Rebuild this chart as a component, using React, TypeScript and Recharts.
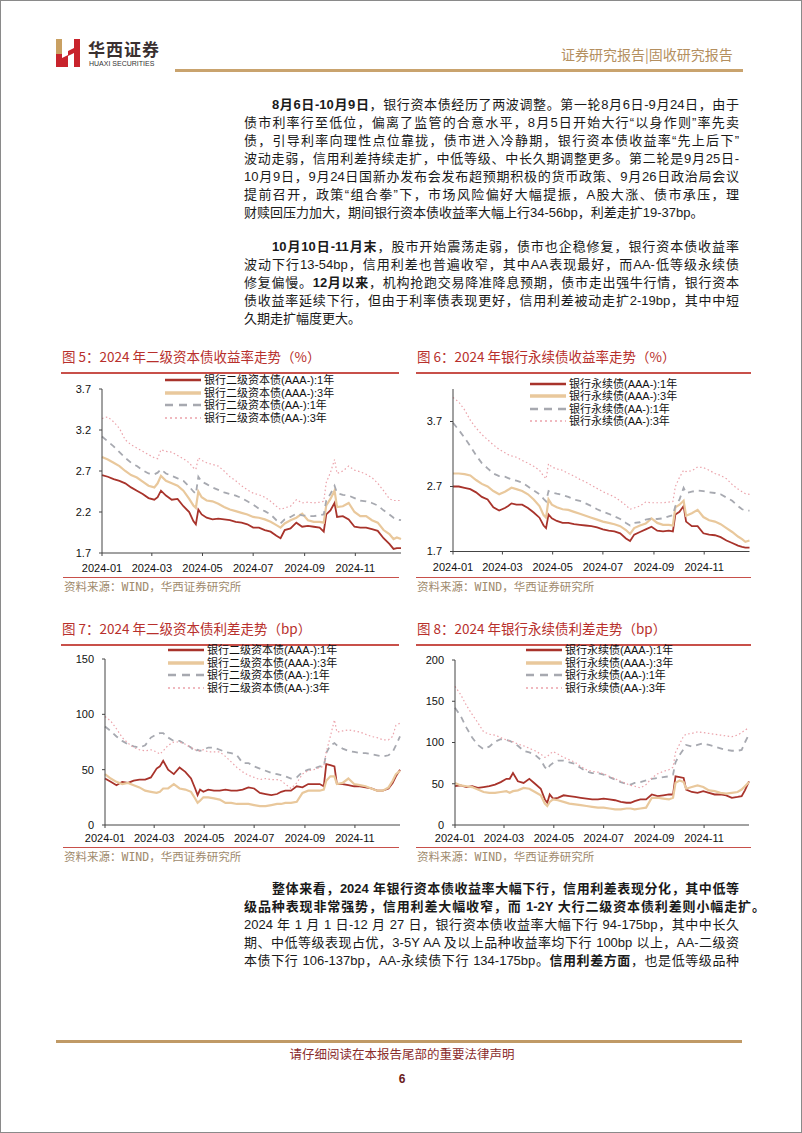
import React from "react";
import { LineChart, Line, XAxis, YAxis, Legend } from "recharts";

// 观测日期（2024 年）
const dates = [
  "2024-01-01", "2024-01-08", "2024-01-15", "2024-01-22", "2024-01-29", "2024-02-05", "2024-02-12", "2024-02-19", "2024-02-26", "2024-03-04",
  "2024-03-08", "2024-03-12", "2024-03-18", "2024-03-25", "2024-04-01", "2024-04-08", "2024-04-15", "2024-04-20", "2024-04-23", "2024-04-26",
  "2024-04-30", "2024-05-06", "2024-05-13", "2024-05-20", "2024-05-27", "2024-06-03", "2024-06-10", "2024-06-17", "2024-06-24", "2024-07-01",
  "2024-07-08", "2024-07-15", "2024-07-22", "2024-07-29", "2024-08-03", "2024-08-08", "2024-08-15", "2024-08-22", "2024-08-29", "2024-09-05",
  "2024-09-12", "2024-09-19", "2024-09-24", "2024-09-27", "2024-10-02", "2024-10-07", "2024-10-10", "2024-10-17", "2024-10-24", "2024-10-31",
  "2024-11-07", "2024-11-14", "2024-11-21", "2024-11-28", "2024-12-05", "2024-12-12", "2024-12-17", "2024-12-21", "2024-12-26",
];

const xTickDates = ["2024-01-01", "2024-03-01", "2024-05-01", "2024-07-01", "2024-09-01", "2024-11-01"];
const xTickLabels = ["2024-01", "2024-03", "2024-05", "2024-07", "2024-09", "2024-11"];

const tier2Names = ["银行二级资本债(AAA-):1年", "银行二级资本债(AAA-):3年", "银行二级资本债(AA-):1年", "银行二级资本债(AA-):3年"];
const perpNames = ["银行永续债(AAA-):1年", "银行永续债(AAA-):3年", "银行永续债(AA-):1年", "银行永续债(AA-):3年"];

// 图5 二级资本债收益率 (%)
const t2YieldAAA1 = [
  2.65, 2.63, 2.6, 2.58, 2.55, 2.5, 2.46, 2.42, 2.37, 2.35, 2.38, 2.46, 2.4, 2.35, 2.36, 2.27, 2.2, 2.09, 2.05, 2.23,
  2.17, 2.13, 2.11, 2.12, 2.11, 2.1, 2.08, 2.07, 2.05, 2.01, 2.01, 1.98, 1.96, 1.91, 1.88, 1.98, 2.0, 2.07, 2.02, 2.03,
  2.02, 2.01, 1.96, 2.17, 2.22, 2.31, 2.14, 2.15, 2.11, 2.02, 2.01, 2.01, 1.99, 1.97, 1.88, 1.81, 1.75, 1.76, 1.76,
];
const t2YieldAAA3 = [
  2.87, 2.84, 2.8, 2.76, 2.7, 2.65, 2.62, 2.57, 2.52, 2.5, 2.55, 2.64, 2.58, 2.55, 2.52, 2.46, 2.36, 2.28, 2.25, 2.45,
  2.38, 2.34, 2.33, 2.3, 2.26, 2.23, 2.21, 2.19, 2.17, 2.14, 2.13, 2.11, 2.08, 2.04, 2.01, 2.06, 2.1, 2.13, 2.18, 2.1,
  2.08, 2.08, 2.07, 2.28, 2.36, 2.46, 2.26, 2.27, 2.31, 2.2, 2.15, 2.15, 2.1, 2.07, 1.98, 1.93, 1.87, 1.89, 1.87,
];
const t2YieldAA1 = [
  3.12, 3.06, 3.0, 2.93, 2.86, 2.8, 2.76, 2.71, 2.67, 2.66, 2.68, 2.72, 2.67, 2.64, 2.61, 2.58, 2.51, 2.45, 2.42, 2.63,
  2.57, 2.54, 2.5, 2.47, 2.44, 2.42, 2.4, 2.37, 2.33, 2.29, 2.24, 2.21, 2.17, 2.1, 2.06, 2.11, 2.14, 2.18, 2.16, 2.15,
  2.15, 2.16, 2.17, 2.34, 2.42, 2.52, 2.43, 2.41, 2.4, 2.37, 2.34, 2.33, 2.31, 2.28, 2.22, 2.17, 2.13, 2.11, 2.1,
];
const t2YieldAA3 = [
  3.34, 3.36, 3.3, 3.22, 3.08, 3.02, 2.98, 2.94, 2.9, 2.86, 2.85, 2.96, 2.94, 2.93, 2.89, 2.85, 2.8, 2.74, 2.72, 2.86,
  2.83, 2.8, 2.78, 2.76, 2.7, 2.63, 2.58, 2.52, 2.47, 2.43, 2.41, 2.38, 2.33, 2.27, 2.23, 2.25, 2.27, 2.35, 2.31, 2.32,
  2.31, 2.32, 2.33, 2.56, 2.68, 2.84, 2.67, 2.7, 2.76, 2.71, 2.69, 2.66, 2.62, 2.55, 2.46, 2.36, 2.34, 2.34, 2.34,
];

// 图6 永续债收益率 (%)
const pYieldAAA1 = [
  2.7, 2.7, 2.68, 2.66, 2.61, 2.54, 2.5, 2.38, 2.33, 2.37, 2.4, 2.44, 2.42, 2.42, 2.37, 2.3, 2.22, 2.1, 2.06, 2.27,
  2.21, 2.17, 2.14, 2.14, 2.12, 2.11, 2.1, 2.09, 2.07, 2.04, 2.02, 2.01, 1.98, 1.9, 1.86, 1.96, 2.0, 2.04, 2.08, 2.02,
  2.01, 2.02, 2.01, 2.27, 2.31, 2.4, 2.16, 2.09, 2.09, 1.98, 1.96, 1.95, 1.92, 1.87, 1.83, 1.79, 1.77, 1.76, 1.76,
];
const pYieldAAA3 = [
  2.9, 2.9, 2.89, 2.87, 2.8, 2.74, 2.7, 2.63, 2.58, 2.62, 2.65, 2.68, 2.66, 2.63, 2.58, 2.5, 2.4, 2.26, 2.22, 2.5,
  2.42, 2.38, 2.35, 2.34, 2.31, 2.28, 2.25, 2.22, 2.19, 2.16, 2.14, 2.12, 2.09, 2.03, 1.97, 2.06, 2.1, 2.13, 2.21, 2.14,
  2.11, 2.11, 2.1, 2.38, 2.42, 2.48, 2.25, 2.29, 2.34, 2.23, 2.18, 2.16, 2.12, 2.06, 2.0, 1.93, 1.89, 1.85, 1.87,
];
const pYieldAA1 = [
  3.68, 3.57, 3.45, 3.32, 3.18, 3.06, 2.98, 2.9, 2.86, 2.85, 2.83, 2.81, 2.79, 2.76, 2.7, 2.64, 2.58, 2.51, 2.47, 2.63,
  2.61, 2.59, 2.57, 2.54, 2.5, 2.48, 2.44, 2.4, 2.35, 2.31, 2.28, 2.24, 2.2, 2.14, 2.1, 2.14, 2.15, 2.19, 2.21, 2.2,
  2.21, 2.24, 2.26, 2.4, 2.5, 2.68, 2.6, 2.62, 2.64, 2.63, 2.61, 2.6, 2.58, 2.53, 2.48, 2.4, 2.35, 2.33, 2.33,
];
const pYieldAA3 = [
  4.07, 4.0, 3.88, 3.72, 3.6, 3.5, 3.42, 3.34, 3.27, 3.22, 3.19, 3.17, 3.15, 3.1, 3.06, 3.01, 2.95, 2.86, 2.82, 3.05,
  3.0, 2.97, 2.95, 2.9, 2.86, 2.81, 2.77, 2.72, 2.67, 2.62, 2.58, 2.54, 2.48, 2.41, 2.35, 2.37, 2.4, 2.46, 2.45, 2.45,
  2.45, 2.46, 2.47, 2.7, 2.84, 2.95, 2.93, 2.94, 3.0, 2.99, 2.95, 2.9, 2.87, 2.82, 2.73, 2.66, 2.62, 2.59, 2.58,
];

// 图7 二级资本债利差 (bp)
const t2SpreadAAA1 = [
  42, 39, 36, 39, 38, 40, 41, 41, 43, 51, 53, 58, 50, 46, 52, 48, 42, 33, 27, 32,
  30, 32, 31, 31, 32, 31, 31, 32, 34, 33, 29, 28, 27, 28, 30, 31, 31, 35, 34, 37,
  37, 37, 35, 55, 54, 53, 37, 37, 36, 35, 35, 34, 33, 31, 31, 33, 38, 44, 50,
];
const t2SpreadAAA3 = [
  46, 42, 39, 37, 38, 36, 34, 31, 30, 29, 30, 33, 33, 37, 33, 32, 30, 24, 20, 22,
  25, 25, 24, 23, 20, 20, 19, 19, 19, 18, 17, 17, 18, 19, 19, 20, 20, 21, 29, 31,
  31, 31, 32, 40, 44, 44, 37, 38, 42, 37, 36, 35, 33, 31, 31, 34, 40, 46, 49,
];
const t2SpreadAA1 = [
  89, 85, 80, 76, 73, 71, 70, 72, 79, 82, 83, 83, 79, 76, 76, 73, 70, 66, 68, 67,
  68, 70, 70, 68, 66, 65, 63, 56, 56, 53, 51, 49, 47, 46, 45, 44, 42, 43, 48, 50,
  51, 53, 53, 65, 72, 74, 72, 69, 67, 66, 65, 65, 64, 63, 62, 63, 66, 72, 80,
];
const t2SpreadAA3 = [
  98, 94, 87, 79, 74, 70, 68, 67, 68, 66, 64, 67, 72, 75, 75, 73, 70, 68, 67, 67,
  68, 66, 66, 66, 62, 57, 52, 48, 45, 43, 41, 42, 41, 41, 40, 37, 33, 38, 46, 49,
  50, 52, 53, 66, 80, 95, 84, 85, 86, 85, 84, 82, 80, 79, 77, 77, 80, 90, 92,
];

// 图8 永续债利差 (bp)
const pSpreadAAA1 = [
  47, 48, 46, 47, 45, 46, 47, 49, 52, 56, 56, 63, 53, 51, 56, 50, 44, 31, 27, 37,
  32, 33, 36, 35, 34, 33, 32, 31, 31, 32, 31, 30, 28, 27, 27, 29, 31, 31, 37, 35,
  36, 37, 37, 59, 58, 57, 43, 40, 39, 41, 39, 37, 37, 36, 33, 34, 35, 42, 53,
];
const pSpreadAAA3 = [
  51, 48, 47, 46, 43, 40, 39, 39, 40, 41, 39, 41, 42, 45, 44, 40, 36, 26, 23, 28,
  31, 30, 28, 26, 25, 24, 23, 22, 21, 21, 20, 19, 19, 20, 20, 19, 20, 21, 33, 33,
  32, 31, 33, 51, 54, 52, 44, 46, 48, 46, 42, 41, 39, 38, 39, 40, 43, 47, 52,
];
const pSpreadAA1 = [
  142, 132, 118, 106, 97, 92, 95, 101, 104, 103, 102, 100, 96, 90, 88, 85, 79, 70, 67, 72,
  75, 78, 78, 76, 74, 69, 65, 63, 63, 61, 58, 55, 52, 50, 49, 51, 52, 54, 56, 57,
  58, 59, 61, 76, 85, 92, 97, 95, 97, 99, 97, 95, 93, 91, 90, 90, 91, 100, 110,
];
const pSpreadAA3 = [
  168, 158, 145, 134, 124, 113, 110, 109, 106, 103, 102, 101, 98, 96, 93, 90, 86, 82, 83, 86,
  89, 86, 82, 79, 76, 71, 67, 65, 64, 62, 59, 56, 53, 50, 48, 47, 45, 49, 57, 62,
  65, 67, 70, 88, 98, 108, 110, 111, 113, 112, 111, 110, 109, 108, 107, 109, 112, 115, 118,
];

const yieldTicksA = [1.7, 2.2, 2.7, 3.2, 3.7];
const yieldTicksB = [1.7, 2.7, 3.7];
const spreadTicksA = [0, 50, 100, 150];
const spreadTicksB = [0, 50, 100, 150, 200];

const FONT = "'Liberation Sans', Arial, 'Noto Sans CJK SC', sans-serif";

const dayOf = (d: string) => Math.round((Date.parse(d) - Date.parse("2024-01-01")) / 86400000);
const xTicks = xTickDates.map(dayOf);

const lineStyles = [
  { color: "#a8332b", width: 1.8, dash: undefined as string | undefined, lw: 2.6, ld: undefined as string | undefined },
  { color: "#e9c89c", width: 2.2, dash: undefined, lw: 3.6, ld: undefined },
  { color: "#a7a9b0", width: 1.8, dash: "6 5", lw: 2.6, ld: "8 6" },
  { color: "#eba2aa", width: 1.2, dash: "1.5 2.5", lw: 1.4, ld: "2 3" },
];

const YW = 40;
const MT = 20;
const XH = 24;
const MR = 10;

type ChartProps = {
  plotLeft: number;
  plotTop: number;
  plotW: number;
  plotH: number;
  yDomain: [number, number];
  yTicks: number[];
  names: string[];
  series: number[][];
  legendLeft: number;
  legendTop: number;
  xTickMargin: number;
};

const LegendBox = (props: any) => {
  const items = [...(props.payload || [])].sort((a: any, b: any) =>
    String(a.dataKey).localeCompare(String(b.dataKey))
  );
  return (
    <div style={{ fontFamily: FONT, fontSize: 11, color: "#111" }}>
      {items.map((p: any) => {
        const k = Number(String(p.dataKey).slice(1));
        const st = lineStyles[k];
        return (
          <div key={p.dataKey} style={{ display: "flex", alignItems: "center", height: 12.5, whiteSpace: "nowrap" }}>
            <svg width={36} height={8} style={{ display: "block" }}>
              <line x1={0} x2={36} y1={4} y2={4} stroke={st.color} strokeWidth={st.lw} strokeDasharray={st.ld} />
            </svg>
            <span style={{ marginLeft: 3, lineHeight: "12.5px" }}>{p.value}</span>
          </div>
        );
      })}
    </div>
  );
};

const TrendChart = ({ plotLeft, plotTop, plotW, plotH, yDomain, yTicks, names, series, legendLeft, legendTop, xTickMargin }: ChartProps) => {
  const data = dates.map((d, i) => {
    const row: Record<string, number> = { day: dayOf(d) };
    series.forEach((s, k) => {
      row["s" + k] = s[i];
    });
    return row;
  });
  const left = plotLeft - YW;
  const top = plotTop - MT;
  return (
    <div style={{ position: "absolute", left, top }}>
      <LineChart width={YW + plotW + MR} height={MT + plotH + XH} data={data} margin={{ top: MT, right: MR, bottom: 0, left: 0 }}>
        <XAxis
          dataKey="day"
          type="number"
          domain={[0, 360]}
          ticks={xTicks}
          interval={0}
          tickFormatter={(v: number) => xTickLabels[xTicks.indexOf(v)]}
          height={XH}
          tickSize={3}
          tickMargin={xTickMargin}
          axisLine={{ stroke: "#444" }}
          tickLine={{ stroke: "#444" }}
          tick={{ fill: "#111", fontSize: 11, fontFamily: FONT }}
        />
        <YAxis
          type="number"
          domain={yDomain}
          ticks={yTicks}
          interval={0}
          width={YW}
          tickSize={3}
          tickMargin={8}
          axisLine={{ stroke: "#444" }}
          tickLine={{ stroke: "#444" }}
          tick={{ fill: "#111", fontSize: 11, fontFamily: FONT }}
        />
        <Legend
          layout="vertical"
          align="center"
          verticalAlign="middle"
          wrapperStyle={{ left: legendLeft - left, top: legendTop - top, width: "auto", height: "auto" }}
          content={LegendBox}
        />
        {series.map((_, k) => (
          <Line
            key={k}
            type="linear"
            dataKey={"s" + k}
            name={names[k]}
            stroke={lineStyles[k].color}
            strokeWidth={lineStyles[k].width}
            strokeDasharray={lineStyles[k].dash}
            dot={false}
            activeDot={false}
            isAnimationActive={false}
          />
        ))}
      </LineChart>
    </div>
  );
};

type Seg = [string, boolean];

const para1: Seg[][] = [
  [["8月6日-10月9日", true], ["，银行资本债经历了两波调整。第一轮8月6日-9月24日，由于", false]],
  [["债市利率行至低位，偏离了监管的合意水平，8月5日开始大行“以身作则”率先卖", false]],
  [["债，引导利率向理性点位靠拢，债市进入冷静期，银行资本债收益率“先上后下”", false]],
  [["波动走弱，信用利差持续走扩，中低等级、中长久期调整更多。第二轮是9月25日-", false]],
  [["10月9日，9月24日国新办发布会发布超预期积极的货币政策、9月26日政治局会议", false]],
  [["提前召开，政策“组合拳”下，市场风险偏好大幅提振，A股大涨、债市承压，理", false]],
  [["财赎回压力加大，期间银行资本债收益率大幅上行34-56bp，利差走扩19-37bp。", false]],
];
const para2: Seg[][] = [
  [["10月10日-11月末", true], ["，股市开始震荡走弱，债市也企稳修复，银行资本债收益率", false]],
  [["波动下行13-54bp，信用利差也普遍收窄，其中AA表现最好，而AA-低等级永续债", false]],
  [["修复偏慢。", false], ["12月以来", true], ["，机构抢跑交易降准降息预期，债市走出强牛行情，银行资本", false]],
  [["债收益率延续下行，但由于利率债表现更好，信用利差被动走扩2-19bp，其中中短", false]],
  [["久期走扩幅度更大。", false]],
];
const para3: Seg[][] = [
  [["整体来看，2024 年银行资本债收益率大幅下行，信用利差表现分化，其中低等", true]],
  [["级品种表现非常强势，信用利差大幅收窄，而 1-2Y 大行二级资本债利差则小幅走扩。", true]],
  [["2024 年 1 月 1 日-12 月 27 日，银行资本债收益率大幅下行 94-175bp，其中中长久", false]],
  [["期、中低等级表现占优，3-5Y AA 及以上品种收益率均下行 100bp 以上，AA-二级资", false]],
  [["本债下行 106-137bp，AA-永续债下行 134-175bp。", false], ["信用利差方面", true], ["，也是低等级品种", false]],
];

const Paragraph = ({ lines, top, last, wideLine }: { lines: Seg[][]; top: number; last: boolean; wideLine?: number }) => (
  <>
    {lines.map((segs, i) => {
      const indent = i === 0;
      const isLast = last && i === lines.length - 1;
      const width = wideLine === i ? 521 : indent ? 467 : 495;
      return (
        <div
          key={i}
          style={{
            position: "absolute",
            left: indent ? 271 : 243,
            top: top + i * 18 - 9,
            width,
            height: 18,
            lineHeight: "18px",
            fontSize: 13,
            color: "#1a1a1a",
            textAlign: "justify",
            textAlignLast: isLast ? "left" : "justify",
            fontFamily: FONT,
          }}
        >
          {segs.map(([t, b], j) => (
            <span key={j} style={{ fontWeight: b ? 700 : 400 }}>
              {t}
            </span>
          ))}
        </div>
      );
    })}
  </>
);

const FigTitle = ({ x, y, text, lineRight }: { x: number; y: number; text: string; lineRight: number }) => (
  <>
    <div
      style={{
        position: "absolute",
        left: x,
        top: y - 9,
        height: 18,
        lineHeight: "18px",
        fontSize: 13.5,
        color: "#b8302c",
        fontFamily: "'Noto Sans CJK SC', sans-serif",
        whiteSpace: "nowrap",
      }}
    >
      {text}
    </div>
    <div style={{ position: "absolute", left: x - 1, top: y + 16, width: lineRight - x + 1, height: 1.5, background: "#c8504a" }} />
  </>
);

const Source = ({ x, y, lineRight }: { x: number; y: number; lineRight: number }) => (
  <>
    <div style={{ position: "absolute", left: x - 1, top: y - 9, width: lineRight - x + 1, height: 1, background: "#c8504a" }} />
    <div
      style={{
        position: "absolute",
        left: x,
        top: y - 6,
        height: 14,
        lineHeight: "14px",
        fontSize: 11.5,
        color: "#a08a6c",
        fontFamily: "'DejaVu Sans Mono', 'Noto Sans CJK SC', monospace",
        whiteSpace: "nowrap",
      }}
    >
      资料来源：WIND，华西证券研究所
    </div>
  </>
);

const App = () => {
  return (
    <div
      style={{
        position: "absolute",
        left: 0,
        top: 0,
        width: 802,
        height: 1133,
        background: "#fff",
        border: "1px solid #8a8a8a",
        boxSizing: "border-box",
        overflow: "hidden",
        fontFamily: FONT,
      }}
    >
      {/* 页眉 */}
      <svg style={{ position: "absolute", left: 55, top: 38 }} width={26} height={28}>
        <rect x={0} y={0} width={6} height={15} fill="#c9a062" />
        <polygon points="0,15 6,15 6,19 12,16 12,28 0,28" fill="#c8232c" />
        <polygon points="18,0 24,0 24,28 18,28 18,14 12,17 12,12 18,9" fill="#c8232c" />
      </svg>
      <div style={{ position: "absolute", left: 87, top: 37, fontSize: 17, fontWeight: 700, color: "#3a3030", fontFamily: "'Noto Sans CJK SC', sans-serif", letterSpacing: 1, lineHeight: "22px", whiteSpace: "nowrap" }}>
        华西证券
      </div>
      <div style={{ position: "absolute", left: 88, top: 58, fontSize: 7, color: "#333", fontFamily: FONT, lineHeight: "9px", whiteSpace: "nowrap" }}>
        HUAXI SECURITIES
      </div>
      <div style={{ position: "absolute", left: 560, top: 44, fontSize: 14, color: "#b48f5f", fontFamily: "'Noto Sans CJK SC', sans-serif", lineHeight: "18px", whiteSpace: "nowrap" }}>
        证券研究报告|固收研究报告
      </div>
      <div style={{ position: "absolute", left: 174, top: 68, width: 568, height: 2.5, background: "#c9a36e" }} />

      {/* 正文 */}
      <Paragraph lines={para1} top={104} last />
      <Paragraph lines={para2} top={246} last />

      {/* 图 5 / 图 6 */}
      <FigTitle x={61} y={355} text="图 5：2024 年二级资本债收益率走势（%）" lineRight={398} />
      <FigTitle x={416} y={355} text="图 6：2024 年银行永续债收益率走势（%）" lineRight={750} />
      <TrendChart
        plotLeft={101}
        plotTop={388}
        plotW={299}
        plotH={164}
        yDomain={[1.7, 3.7]}
        yTicks={yieldTicksA}
        names={tier2Names}
        series={[t2YieldAAA1, t2YieldAAA3, t2YieldAA1, t2YieldAA3]}
        legendLeft={164}
        legendTop={373}
        xTickMargin={8}
      />
      <TrendChart
        plotLeft={451.5}
        plotTop={388}
        plotW={296.5}
        plotH={162.5}
        yDomain={[1.7, 4.2]}
        yTicks={yieldTicksB}
        names={perpNames}
        series={[pYieldAAA1, pYieldAAA3, pYieldAA1, pYieldAA3]}
        legendLeft={529}
        legendTop={376.5}
        xTickMargin={9}
      />
      <Source x={63} y={585} lineRight={398} />
      <Source x={416} y={585} lineRight={750} />

      {/* 图 7 / 图 8 */}
      <FigTitle x={61} y={627} text="图 7：2024 年二级资本债利差走势（bp）" lineRight={398} />
      <FigTitle x={416} y={627} text="图 8：2024 年银行永续债利差走势（bp）" lineRight={750} />
      <TrendChart
        plotLeft={104}
        plotTop={658}
        plotW={295}
        plotH={166}
        yDomain={[0, 150]}
        yTicks={spreadTicksA}
        names={tier2Names}
        series={[t2SpreadAAA1, t2SpreadAAA3, t2SpreadAA1, t2SpreadAA3]}
        legendLeft={167}
        legendTop={643}
        xTickMargin={6}
      />
      <TrendChart
        plotLeft={453.5}
        plotTop={659}
        plotW={294}
        plotH={165}
        yDomain={[0, 200]}
        yTicks={spreadTicksB}
        names={perpNames}
        series={[pSpreadAAA1, pSpreadAAA3, pSpreadAA1, pSpreadAA3]}
        legendLeft={525}
        legendTop={643}
        xTickMargin={6}
      />
      <Source x={63} y={855} lineRight={398} />
      <Source x={416} y={855} lineRight={750} />

      <Paragraph lines={para3} top={888} last={false} wideLine={1} />

      {/* 页脚 */}
      <div style={{ position: "absolute", left: 55, top: 1039, width: 686, height: 3, background: "#c09a66" }} />
      <div style={{ position: "absolute", left: 0, width: 802, top: 1045, textAlign: "center", fontSize: 12.5, color: "#8a2c2c", fontFamily: "'Noto Sans CJK SC', sans-serif", lineHeight: "16px" }}>
        请仔细阅读在本报告尾部的重要法律声明
      </div>
      <div style={{ position: "absolute", left: 0, width: 802, top: 1070, textAlign: "center", fontSize: 12, fontWeight: 700, color: "#6a1a1a", fontFamily: FONT, lineHeight: "16px" }}>
        6
      </div>
    </div>
  );
};

export default App;
